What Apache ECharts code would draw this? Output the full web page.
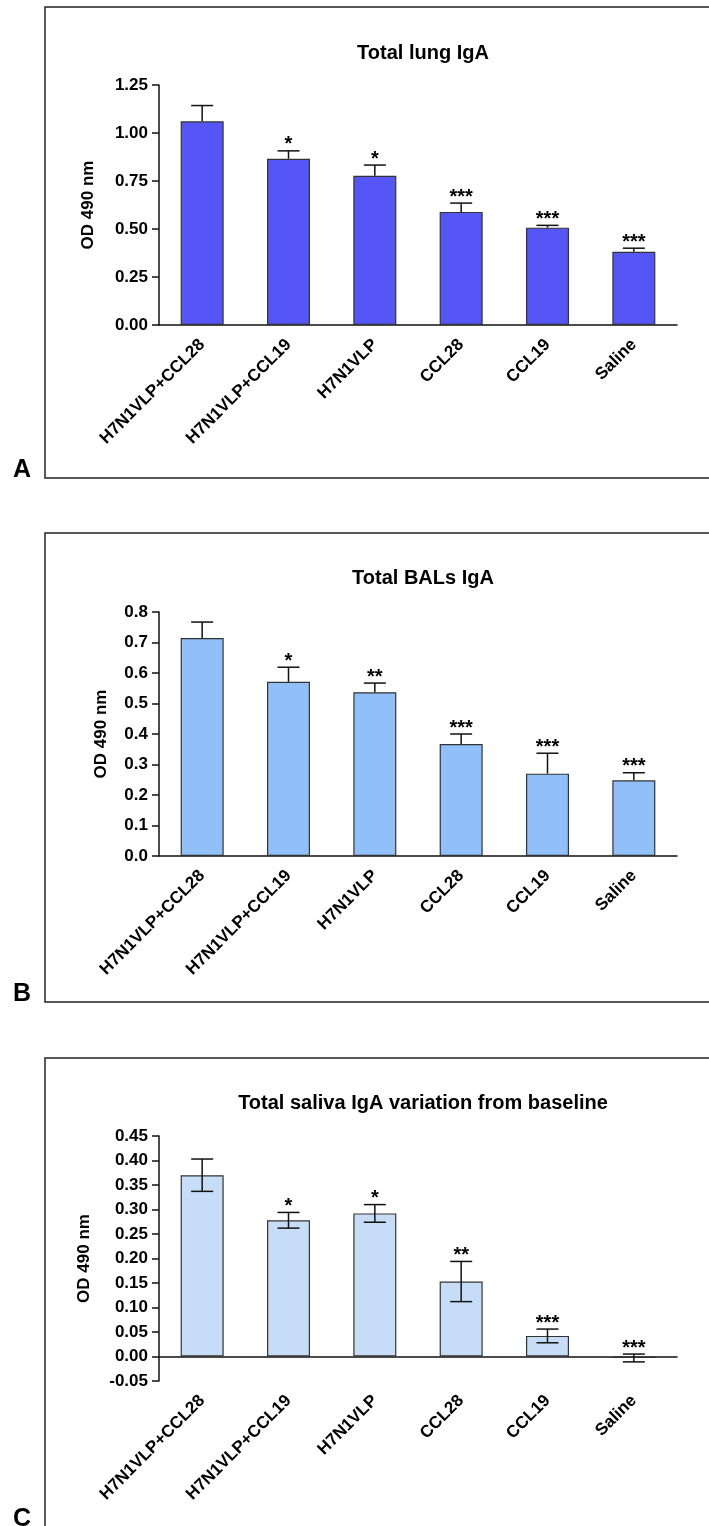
<!DOCTYPE html>
<html lang="en">
<head>
    <meta charset="UTF-8">
    <title>Total IgA</title>
    <script src="https://cdn.jsdelivr.net/npm/echarts@6.0.0/dist/echarts.min.js"></script>
    <style>
        body { margin: 0; background: #fff; }
    </style>
</head>
<body>
    <div id="main" style="width: 709px;height:1526px;"></div>

    <script type="text/javascript">
        // groups on the x axis (same for all three panels)
        const categories = ['H7N1VLP+CCL28', 'H7N1VLP+CCL19', 'H7N1VLP', 'CCL28', 'CCL19', 'Saline'];

        // panel A - total lung IgA
        const lungMean = [1.061, 0.866, 0.777, 0.589, 0.507, 0.381];
        const lungSem = [0.082, 0.041, 0.056, 0.046, 0.012, 0.019];
        const lungStars = ['', '*', '*', '***', '***', '***'];

        // panel B - total BALs IgA
        const balMean = [0.715, 0.571, 0.537, 0.367, 0.270, 0.248];
        const balSem = [0.052, 0.048, 0.030, 0.033, 0.067, 0.025];
        const balStars = ['', '*', '**', '***', '***', '***'];

        // panel C - saliva IgA variation from baseline
        const salivaMean = [0.370, 0.278, 0.292, 0.153, 0.042, -0.003];
        const salivaSem = [0.033, 0.016, 0.018, 0.041, 0.014, 0.008];
        const salivaStars = ['', '*', '*', '**', '***', '***'];

        const FONT = 'Liberation Sans, Arial, Helvetica, sans-serif';
        const INK = '#111';

        let myChart = echarts.init(document.getElementById('main'));

        // error bar + significance stars, drawn with the axes' own coords
        function makeErr(stars, both) {
            return function (params, api) {
                const i = api.value(0);
                const top = api.coord([i, api.value(2)]);
                const bot = api.coord([i, api.value(1)]);
                const half = 11;
                const st = { stroke: INK, lineWidth: 1.5 };
                const children = [
                    { type: 'line', shape: { x1: top[0], y1: top[1], x2: bot[0], y2: bot[1] }, style: st },
                    { type: 'line', shape: { x1: top[0] - half, y1: top[1], x2: top[0] + half, y2: top[1] }, style: st }
                ];
                if (both) {
                    children.push({ type: 'line', shape: { x1: bot[0] - half, y1: bot[1], x2: bot[0] + half, y2: bot[1] }, style: st });
                }
                const s = stars[params.dataIndex];
                if (s) {
                    children.push({
                        type: 'text', x: top[0], y: top[1] - 6,
                        style: { text: s, font: 'bold 20px ' + FONT, fill: '#000', align: 'center', verticalAlign: 'middle' }
                    });
                }
                return { type: 'group', children: children };
            };
        }

        function errData(mean, sem, both) {
            return mean.map((m, i) => [i, both ? m - sem[i] : m, m + sem[i]]);
        }

        function xAxisFor(idx) {
            return {
                type: 'category', gridIndex: idx, data: categories,
                axisTick: { show: false },
                axisLine: { lineStyle: { color: INK, width: 1.5 } },
                axisLabel: {
                    rotate: 45, interval: 0, margin: 17, color: '#000',
                    fontWeight: 'bold', fontSize: 17, fontFamily: FONT
                }
            };
        }

        function yAxisFor(idx, min, max, step, digits, gap) {
            return {
                type: 'value', gridIndex: idx, min: min, max: max, interval: step,
                name: 'OD 490 nm', nameLocation: 'middle', nameGap: gap,
                nameTextStyle: { fontWeight: 'bold', fontSize: 17, fontFamily: FONT, color: '#000' },
                splitLine: { show: false },
                axisLine: { show: true, lineStyle: { color: INK, width: 1.5 } },
                axisTick: { show: true, length: 7, lineStyle: { color: INK, width: 1.5 } },
                axisLabel: {
                    margin: 11, color: '#000', fontWeight: 'bold', fontSize: 17, fontFamily: FONT,
                    formatter: v => v.toFixed(digits)
                }
            };
        }

        function titleFor(text, top) {
            return {
                text: text, left: 418, top: top, textAlign: 'center',
                textStyle: { fontWeight: 'bold', fontSize: 20, fontFamily: FONT, color: '#000' }
            };
        }

        function frame(y, h) {
            return {
                type: 'rect', shape: { x: 45, y: y, width: 700, height: h },
                style: { fill: 'none', stroke: '#222', lineWidth: 1.5 }
            };
        }

        function letter(t, y) {
            return {
                type: 'text', x: 13, y: y,
                style: { text: t, font: 'bold 25px ' + FONT, fill: '#000', verticalAlign: 'middle' }
            };
        }

        const barStyle = (c) => ({ color: c, borderColor: '#333', borderWidth: 1.2 });

        let options = {
            backgroundColor: '#fff',
            animation: false,
            title: [
                titleFor('Total lung IgA', 38),
                titleFor('Total BALs IgA', 563),
                titleFor('Total saliva IgA variation from baseline', 1088)
            ],
            grid: [
                { left: 159, top: 85, width: 518, height: 240 },
                { left: 159, top: 612, width: 518, height: 244 },
                { left: 159, top: 1136, width: 518, height: 245 }
            ],
            xAxis: [xAxisFor(0), xAxisFor(1), xAxisFor(2)],
            yAxis: [
                yAxisFor(0, 0, 1.25, 0.25, 2, 62),
                yAxisFor(1, 0, 0.8, 0.1, 1, 49),
                yAxisFor(2, -0.05, 0.45, 0.05, 2, 66)
            ],
            graphic: [
                frame(7, 471), frame(533, 469), frame(1058, 600),
                letter('A', 470), letter('B', 994), letter('C', 1519)
            ],
            series: [
                { type: 'bar', xAxisIndex: 0, yAxisIndex: 0, data: lungMean, barWidth: 43, itemStyle: barStyle('#5656f6') },
                { type: 'bar', xAxisIndex: 1, yAxisIndex: 1, data: balMean, barWidth: 43, itemStyle: barStyle('#91bff8') },
                { type: 'bar', xAxisIndex: 2, yAxisIndex: 2, data: salivaMean, barWidth: 43, itemStyle: barStyle('#c7ddf7') },
                {
                    type: 'custom', xAxisIndex: 0, yAxisIndex: 0, z: 3,
                    renderItem: makeErr(lungStars, false), encode: { x: 0, y: [1, 2] },
                    data: errData(lungMean, lungSem, false)
                },
                {
                    type: 'custom', xAxisIndex: 1, yAxisIndex: 1, z: 3,
                    renderItem: makeErr(balStars, false), encode: { x: 0, y: [1, 2] },
                    data: errData(balMean, balSem, false)
                },
                {
                    type: 'custom', xAxisIndex: 2, yAxisIndex: 2, z: 3,
                    renderItem: makeErr(salivaStars, true), encode: { x: 0, y: [1, 2] },
                    data: errData(salivaMean, salivaSem, true)
                }
            ]
        };

        myChart.setOption(options);
    </script>
</body>
</html>
